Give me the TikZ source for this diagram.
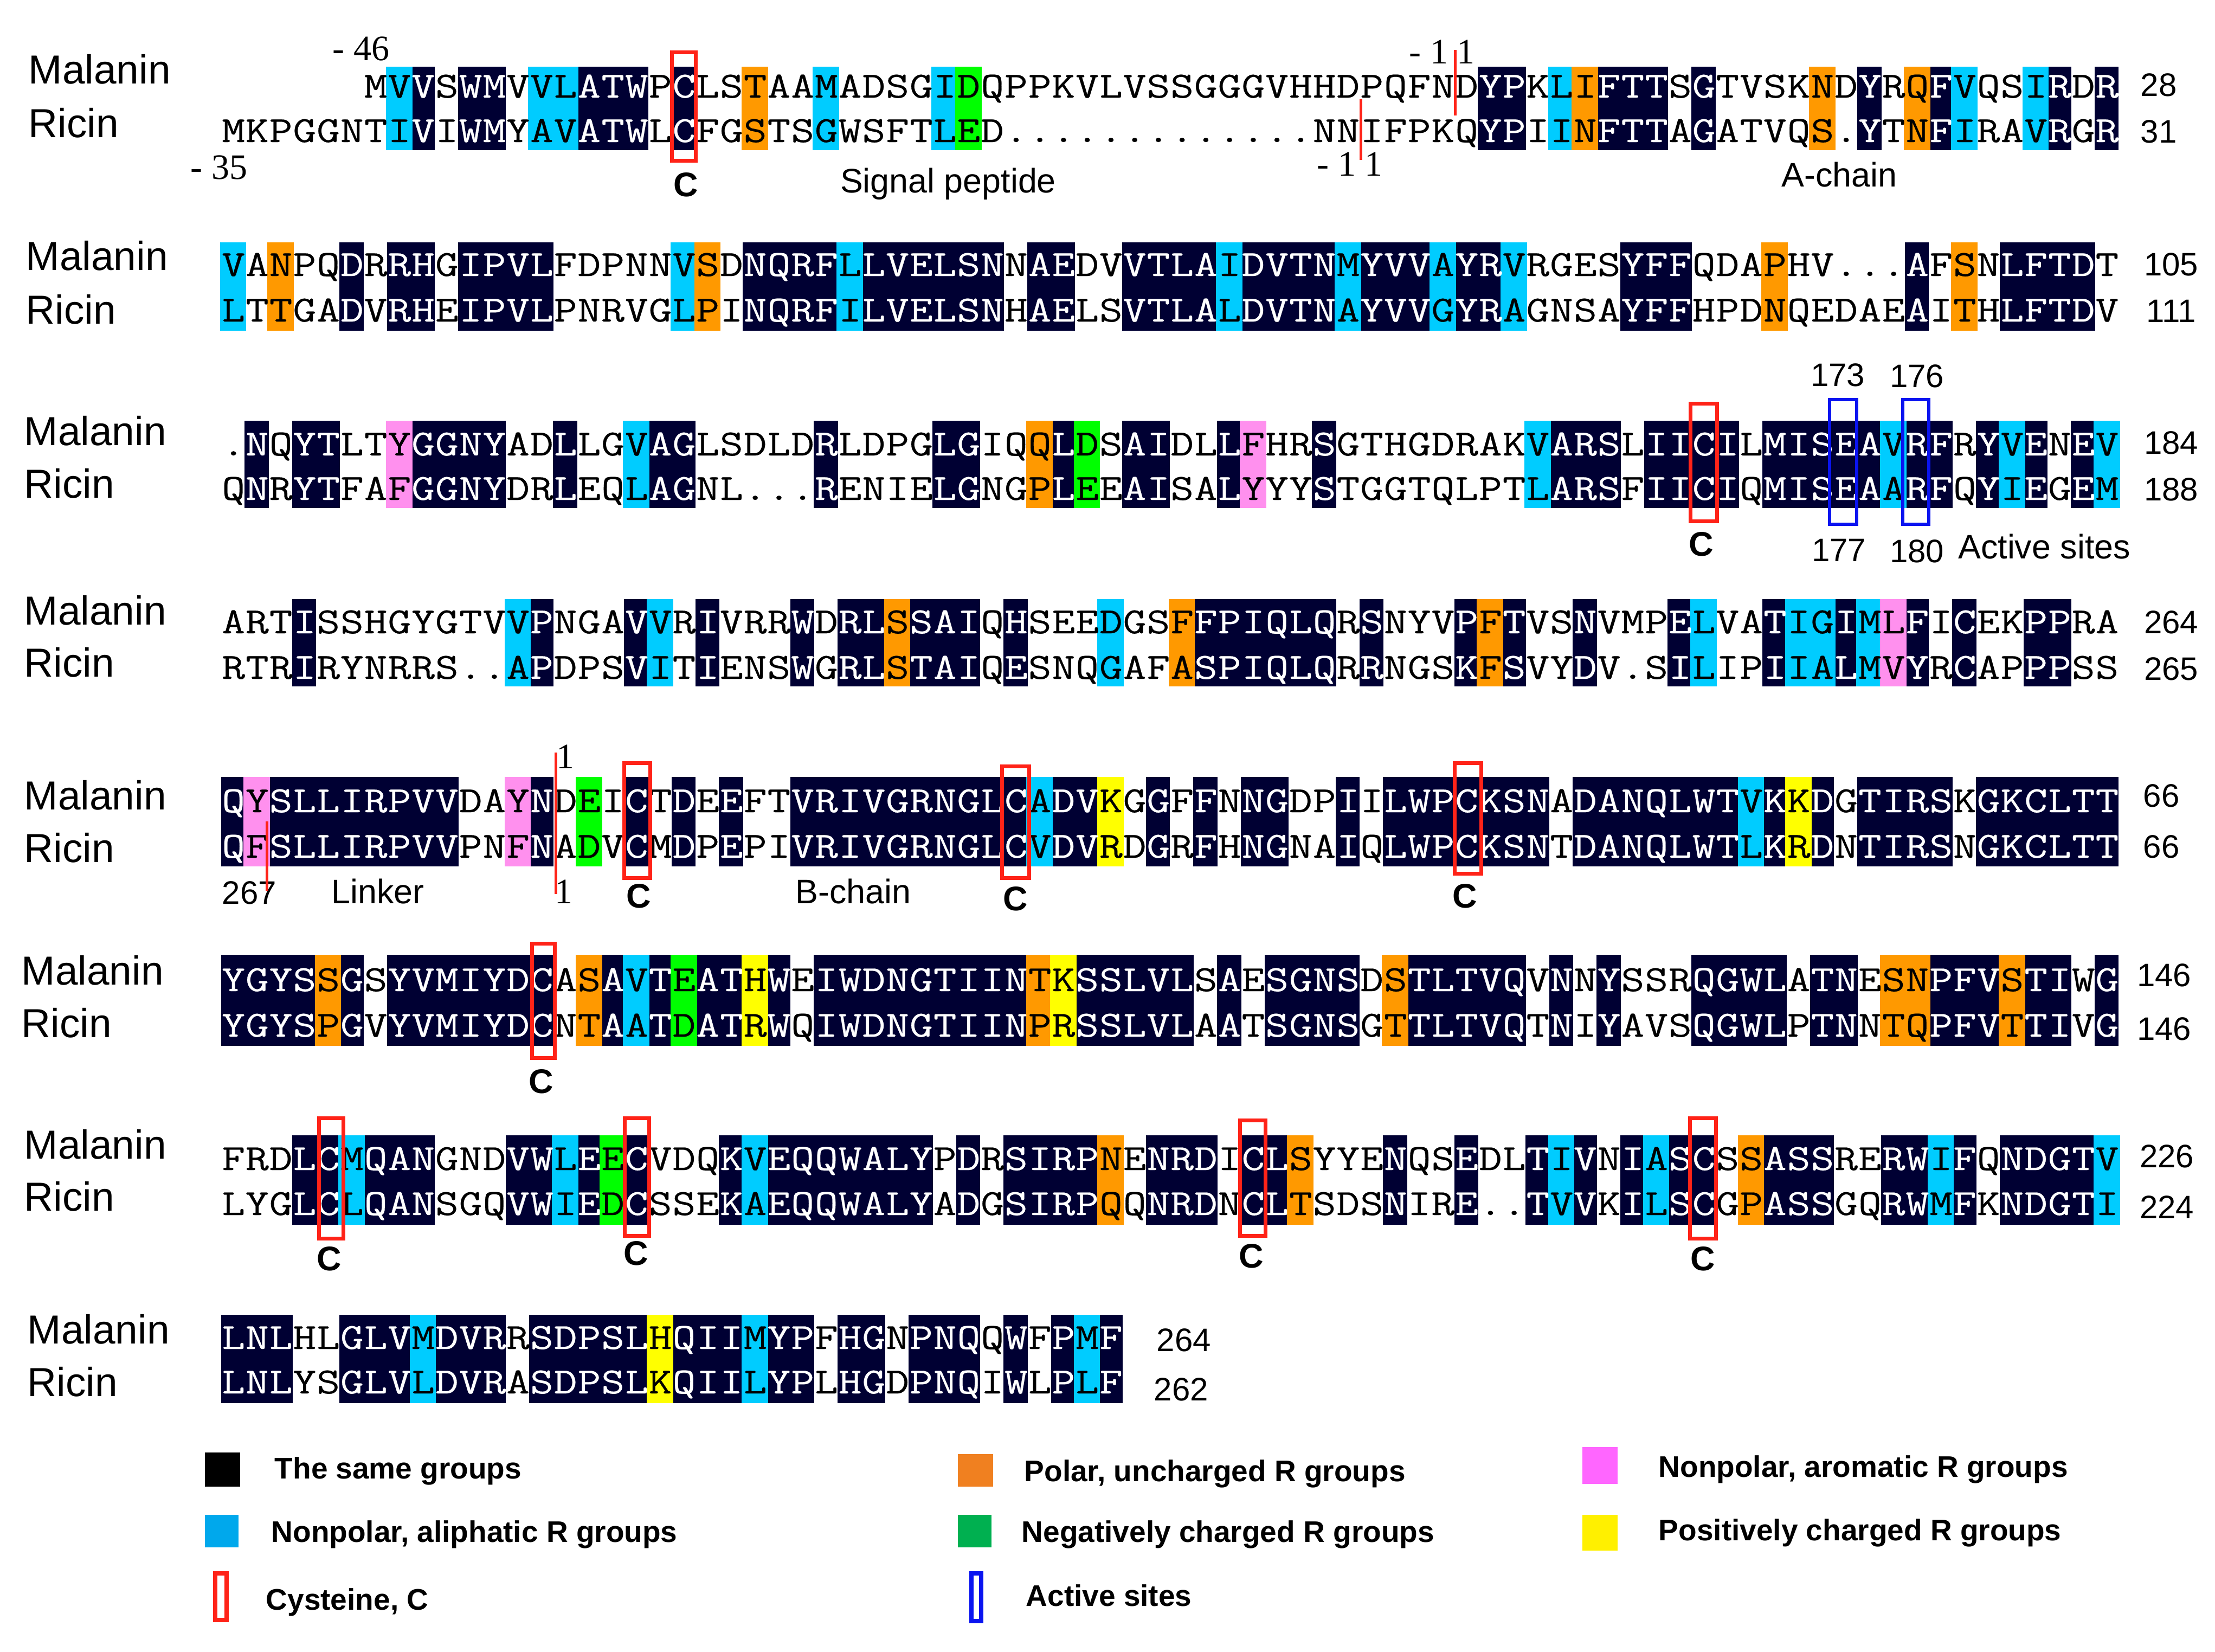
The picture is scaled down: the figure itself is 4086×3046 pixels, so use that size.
\documentclass[tikz,border=0pt]{standalone}
\usepackage{fontspec}
\newfontfamily\arial{Liberation Sans}
\newfontfamily\tnr{Liberation Serif}
\newfontfamily\seqfont[FakeStretch=1.22,FakeBold=0.35]{Latin Modern Mono}
\definecolor{coln}{HTML}{000033}
\definecolor{colc}{HTML}{00CCFF}
\definecolor{colo}{HTML}{FF9900}
\definecolor{colg}{HTML}{00FF00}
\definecolor{colm}{HTML}{FF90EE}
\definecolor{coly}{HTML}{FFFF00}
\definecolor{redbox}{HTML}{FF2318}
\definecolor{bluebox}{HTML}{0A14F0}
\tikzset{
  seqt/.style={inner sep=0pt,anchor=base west,font={\fontsize{17}{20}\seqfont}},
  namelab/.style={inner sep=0pt,anchor=west,text height=13.4pt,text depth=0pt,font={\fontsize{18.7}{22}\arial}},
  numlab/.style={inner sep=0pt,anchor=center,text height=10.7pt,text depth=0pt,font={\fontsize{15}{18}\arial}},
  serlab/.style={inner sep=0pt,anchor=center,text height=11.8pt,text depth=0pt,font={\fontsize{16.5}{20}\tnr}},
  annlab/.style={inner sep=0pt,anchor=center,text height=11.2pt,text depth=0pt,font={\fontsize{15.7}{18}\arial}},
  clab/.style={inner sep=0pt,anchor=center,text height=11.3pt,text depth=0pt,font={\fontsize{15.75}{18}\arial\bfseries}},
  leglab/.style={inner sep=0pt,anchor=west,text height=9.8pt,text depth=0pt,font={\fontsize{13.75}{16}\arial\bfseries}},
  cysbox/.style={draw=redbox,line width=1.75pt},
  actbox/.style={draw=bluebox,line width=1.5pt},
  cutline/.style={draw=redbox,line width=1.25pt},
  legcys/.style={draw=redbox,line width=2pt},
  legact/.style={draw=bluebox,line width=2pt},
}
% letters of one sequence, in a fixed column pitch; white on navy columns
\def\seqbox#1#2{\makebox[10.9375pt][c]{\ifx#2n\color{white}\fi\ifx#1_\else#1\fi}}
\def\zipstep#1#2\zipsep#3#4\zipend{\ifx#1|\else\seqbox{#1}{#3}\zipstep#2\zipsep#4\zipend\fi}
\def\seqline#1#2{\expandafter\zipaux\expandafter{#2}{#1}}
\def\zipaux#1#2{\zipstep#2|\zipsep#1|\zipend}
% column bands
\newcount\colk
\def\bandone#1{\ifx#1.\else
  \ifx#1n\ifnum\bandpass=0
    \pgfmathsetmacro\xA{408+43.75*\the\colk-0.4}\pgfmathsetmacro\xB{408+43.75*(\the\colk+1)+0.4}
    \fill[coln] (\xA,\yA) rectangle (\xB,\yB);\fi
  \else\ifnum\bandpass=1
    \pgfmathsetmacro\xA{408+43.75*\the\colk-2.5}\pgfmathsetmacro\xB{408+43.75*(\the\colk+1)+2.5}
    \fill[col#1] (\xA,\yA) rectangle (\xB,\yB);\fi
  \fi\fi}
\def\bandnext#1{\ifx#1|\let\bandgo\relax\else\bandone{#1}\global\advance\colk 1 \let\bandgo\bandnext\fi\bandgo}
\def\bandrun#1{\global\colk=0 \expandafter\bandnext#1|}
\def\bands#1#2#3{\def\yA{#1}\def\yB{#2}\def\bandpass{0}\bandrun#3\def\bandpass{1}\bandrun#3}
% shading masks: n same, c aliphatic, o polar, g negative, m aromatic, y positive
\def\maskA{.......cn.nn.ccnnn.n..o..c....cg.....................nn.connn.n....o.n.onc..cn.n}
\def\maskB{c.o..n.nn.nnnn.....co.nnnncnnnnnn.nn..nnnncnnnncnnncnnc....nnn...o.....n.o.nnnn.}
\def\maskC{.n.nn..mnnnn..n..cnn.....n....nn..ong.nn..nm..n........cnnn.nnnn.nnnnncnn.ncn.nc}
\def\maskD{...n........cn...nc.n...n.nnonnn.n...c..onnnnnn.n...non..n...nc..nccncmn.n..nn..}
\def\maskE{nmnnnnnnnn..mn.g.n.n.n..nnnnnnnnnncnny.n.n.nn..n.nnnnnnn.nnnnnnncnyn.nnnn.nnnnnn}
\def\maskF{nnnnon.nnnnnnn.oncngnnyn.nnnnnnnnnoynnnnn.n.nnnn.onnnnn.n.n...nnnn.nn.oonnnonn.n}
\def\maskG{...nncnnn...nncngn...ncnnnnnnn.n.nnnno.nnn.nno...n..n..ncn.ncnn.onnn..nncn.nnnnc}
\def\maskH{nnn..nnncnnn.nnnnnynnncnn.nn.nnn.n.ncn}
\begin{document}
\begin{tikzpicture}[x=.25pt,y=-.25pt]
\useasboundingbox (0,0) rectangle (4086,3046);
\fill[white] (0,0) rectangle (4086,3046);
% bands
\bands{123}{277}{\maskA}
\bands{447}{610}{\maskB}
\bands{776}{937}{\maskC}
\bands{1105}{1266}{\maskD}
\bands{1433}{1598}{\maskE}
\bands{1761}{1929}{\maskF}
\bands{2094}{2259}{\maskG}
\bands{2425}{2588}{\maskH}
% sequences
\node[seqt] (s1m) at (408,180) {\seqline{______MVVSWMVVLATWPCLSTAAMADSGIDQPPKVLVSSGGGVHHDPQFNDYPKLIFTTSGTVSKNDYRQFVQSIRDR}{\maskA}};
\node[seqt] (s1r) at (408,262) {\seqline{MKPGGNTIVIWMYAVATWLCFGSTSGWSFTLED.............NNIFPKQYPIINFTTAGATVQS.YTNFIRAVRGR}{\maskA}};
\node[seqt] (s2m) at (408,509) {\seqline{VANPQDRRHGIPVLFDPNNVSDNQRFLLVELSNNAEDVVTLAIDVTNMYVVAYRVRGESYFFQDAPHV...AFSNLFTDT}{\maskB}};
\node[seqt] (s2r) at (408,593) {\seqline{LTTGADVRHEIPVLPNRVGLPINQRFILVELSNHAELSVTLALDVTNAYVVGYRAGNSAYFFHPDNQEDAEAITHLFTDV}{\maskB}};
\node[seqt] (s3m) at (408,840) {\seqline{.NQYTLTYGGNYADLLGVAGLSDLDRLDPGLGIQQLDSAIDLLFHRSGTHGDRAKVARSLIICILMISEAVRFRYVENEV}{\maskC}};
\node[seqt] (s3r) at (408,922) {\seqline{QNRYTFAFGGNYDRLEQLAGNL...RENIELGNGPLEEAISALYYYSTGGTQLPTLARSFIICIQMISEAARFQYIEGEM}{\maskC}};
\node[seqt] (s4m) at (408,1168) {\seqline{ARTISSHGYGTVVPNGAVVRIVRRWDRLSSAIQHSEEDGSFFPIQLQRSNYVPFTVSNVMPELVATIGIMLFICEKPPRA}{\maskD}};
\node[seqt] (s4r) at (408,1252) {\seqline{RTRIRYNRRS..APDPSVITIENSWGRLSTAIQESNQGAFASPIQLQRRNGSKFSVYDV.SILIPIIALMVYRCAPPPSS}{\maskD}};
\node[seqt] (s5m) at (408,1498) {\seqline{QYSLLIRPVVDAYNDEICTDEEFTVRIVGRNGLCADVKGGFFNNGDPIILWPCKSNADANQLWTVKKDGTIRSKGKCLTT}{\maskE}};
\node[seqt] (s5r) at (408,1582) {\seqline{QFSLLIRPVVPNFNADVCMDPEPIVRIVGRNGLCVDVRDGRFHNGNAIQLWPCKSNTDANQLWTLKRDNTIRSNGKCLTT}{\maskE}};
\node[seqt] (s6m) at (408,1828) {\seqline{YGYSSGSYVMIYDCASAVTEATHWEIWDNGTIINTKSSLVLSAESGNSDSTLTVQVNNYSSRQGWLATNESNPFVSTIWG}{\maskF}};
\node[seqt] (s6r) at (408,1912) {\seqline{YGYSPGVYVMIYDCNTAATDATRWQIWDNGTIINPRSSLVLAATSGNSGTTLTVQTNIYAVSQGWLPTNNTQPFVTTIVG}{\maskF}};
\node[seqt] (s7m) at (408,2158) {\seqline{FRDLCMQANGNDVWLEECVDQKVEQQWALYPDRSIRPNENRDICLSYYENQSEDLTIVNIASCSSASSRERWIFQNDGTV}{\maskG}};
\node[seqt] (s7r) at (408,2241) {\seqline{LYGLCLQANSGQVWIEDCSSEKAEQQWALYADGSIRPQQNRDNCLTSDSNIRE..TVVKILSCGPASSGQRWMFKNDGTI}{\maskG}};
\node[seqt] (s8m) at (408,2488) {\seqline{LNLHLGLVMDVRRSDPSLHQIIMYPFHGNPNQQWFPMF}{\maskH}};
\node[seqt] (s8r) at (408,2570) {\seqline{LNLYSGLVLDVRASDPSLKQIILYPLHGDPNQIWLPLF}{\maskH}};
% names
\node[namelab] (n1m) at (52,128) {Malanin};  \node[namelab] (n1r) at (52,227) {Ricin};
\node[namelab] (n2m) at (47,472) {Malanin};  \node[namelab] (n2r) at (47,571) {Ricin};
\node[namelab] (n3m) at (44,795) {Malanin};  \node[namelab] (n3r) at (44,892) {Ricin};
\node[namelab] (n4m) at (44,1126) {Malanin}; \node[namelab] (n4r) at (44,1222) {Ricin};
\node[namelab] (n5m) at (44,1467) {Malanin}; \node[namelab] (n5r) at (44,1564) {Ricin};
\node[namelab] (n6m) at (39,1790) {Malanin}; \node[namelab] (n6r) at (39,1887) {Ricin};
\node[namelab] (n7m) at (44,2111) {Malanin}; \node[namelab] (n7r) at (44,2207) {Ricin};
\node[namelab] (n8m) at (50,2452) {Malanin}; \node[namelab] (n8r) at (50,2549) {Ricin};
% end numbers
\node[numlab] (e1m) at (3982,156) {28};   \node[numlab] (e1r) at (3982,242) {31};
\node[numlab] (e2m) at (4005,487) {105};  \node[numlab] (e2r) at (4005,573) {111};
\node[numlab] (e3m) at (4005,816) {184};  \node[numlab] (e3r) at (4005,902) {188};
\node[numlab] (e4m) at (4005,1147) {264}; \node[numlab] (e4r) at (4005,1233) {265};
\node[numlab] (e5m) at (3987,1467) {66};  \node[numlab] (e5r) at (3987,1561) {66};
\node[numlab] (e6m) at (3992,1798) {146}; \node[numlab] (e6r) at (3992,1897) {146};
\node[numlab] (e7m) at (3997,2132) {226}; \node[numlab] (e7r) at (3997,2226) {224};
\node[numlab] (e8m) at (2184,2471) {264}; \node[numlab] (e8r) at (2179,2562) {262};
% position marks
\node[serlab] (p46) at (666,88) {- 46};
\node[serlab] (p35) at (404,307) {- 35};
\node[serlab] (p11a) at (2660,94) {- 1 1};
\node[serlab] (p11b) at (2490,301) {- 1 1};
\node[serlab] (p1a) at (1043,1394) {1};
\node[serlab] (p1b) at (1040,1643) {1};
\coordinate (la1) at (2684,92);  \coordinate (la2) at (2684,213);
\coordinate (lb1) at (2510,183); \coordinate (lb2) at (2510,295);
\coordinate (lc1) at (1025,1388);\coordinate (lc2) at (1025,1649);
\coordinate (ld1) at (492,1515); \coordinate (ld2) at (492,1643);
% annotations
\node[annlab] (tsig) at (1749,333) {Signal peptide};
\node[annlab] (tach) at (3393,322) {A-chain};
\node[annlab] (tact) at (3771,1008) {Active sites};
\node[annlab] (tlin) at (697,1644) {Linker};
\node[annlab] (tbch) at (1574,1644) {B-chain};
\node[numlab] (t267) at (460,1646) {267};
\node[numlab] (t173) at (3390,691) {173};
\node[numlab] (t176) at (3536,693) {176};
\node[numlab] (t177) at (3392,1014) {177};
\node[numlab] (t180) at (3536,1016) {180};
% cysteine and active-site frames
\draw[cysbox] (1239,96) rectangle (1283,296);
\draw[cysbox] (3118,744) rectangle (3167,961);
\draw[actbox] (3375,737) rectangle (3425,967);
\draw[actbox] (3510,737) rectangle (3558,967);
\draw[cysbox] (1151,1407) rectangle (1199,1619);
\draw[cysbox] (1848,1413) rectangle (1898,1619);
\draw[cysbox] (2683,1407) rectangle (2732,1611);
\draw[cysbox] (981,1740) rectangle (1023,1951);
\draw[cysbox] (588,2062) rectangle (633,2284);
\draw[cysbox] (1152,2062) rectangle (1197,2279);
\draw[cysbox] (2287,2066) rectangle (2334,2279);
\draw[cysbox] (3117,2062) rectangle (3165,2284);
\draw[cutline] (la1) -- (la2);
\draw[cutline] (lb1) -- (lb2);
\draw[cutline] (lc1) -- (lc2);
\draw[cutline] (ld1) -- (ld2);
% C labels
\node[clab] (c1) at (1265,340) {C};
\node[clab] (c2) at (3138,1003) {C};
\node[clab] (c3) at (1178,1652) {C};
\node[clab] (c4) at (1873,1657) {C};
\node[clab] (c5) at (2702,1652) {C};
\node[clab] (c6) at (998,1994) {C};
\node[clab] (c7) at (607,2321) {C};
\node[clab] (c8) at (1173,2311) {C};
\node[clab] (c9) at (2308,2316) {C};
\node[clab] (c10) at (3141,2321) {C};
% legend
\fill[black] (378,2679) rectangle (443,2742);
\node[leglab] (l1) at (506,2708) {The same groups};
\fill[fill={rgb,255:red,240;green,128;blue,32}] (1767,2682) rectangle (1832,2742);
\node[leglab] (l2) at (1889,2713) {Polar, uncharged R groups};
\fill[fill={rgb,255:red,255;green,102;blue,255}] (2919,2669) rectangle (2984,2737);
\node[leglab] (l3) at (3059,2705) {Nonpolar, aromatic R groups};
\fill[fill={rgb,255:red,0;green,168;blue,236}] (378,2794) rectangle (440,2854);
\node[leglab] (l4) at (500,2825) {Nonpolar, aliphatic R groups};
\fill[fill={rgb,255:red,0;green,176;blue,80}] (1767,2794) rectangle (1829,2854);
\node[leglab] (l5) at (1884,2825) {Negatively charged R groups};
\fill[fill={rgb,255:red,255;green,240;blue,0}] (2919,2794) rectangle (2984,2860);
\node[leglab] (l6) at (3059,2822) {Positively charged R groups};
\draw[legcys] (397,2902) rectangle (418,2988);
\node[leglab] (l7) at (490,2950) {Cysteine, C};
\draw[legact] (1792,2902) rectangle (1810,2990);
\node[leglab] (l8) at (1892,2943) {Active sites};
\end{tikzpicture}
\end{document}
